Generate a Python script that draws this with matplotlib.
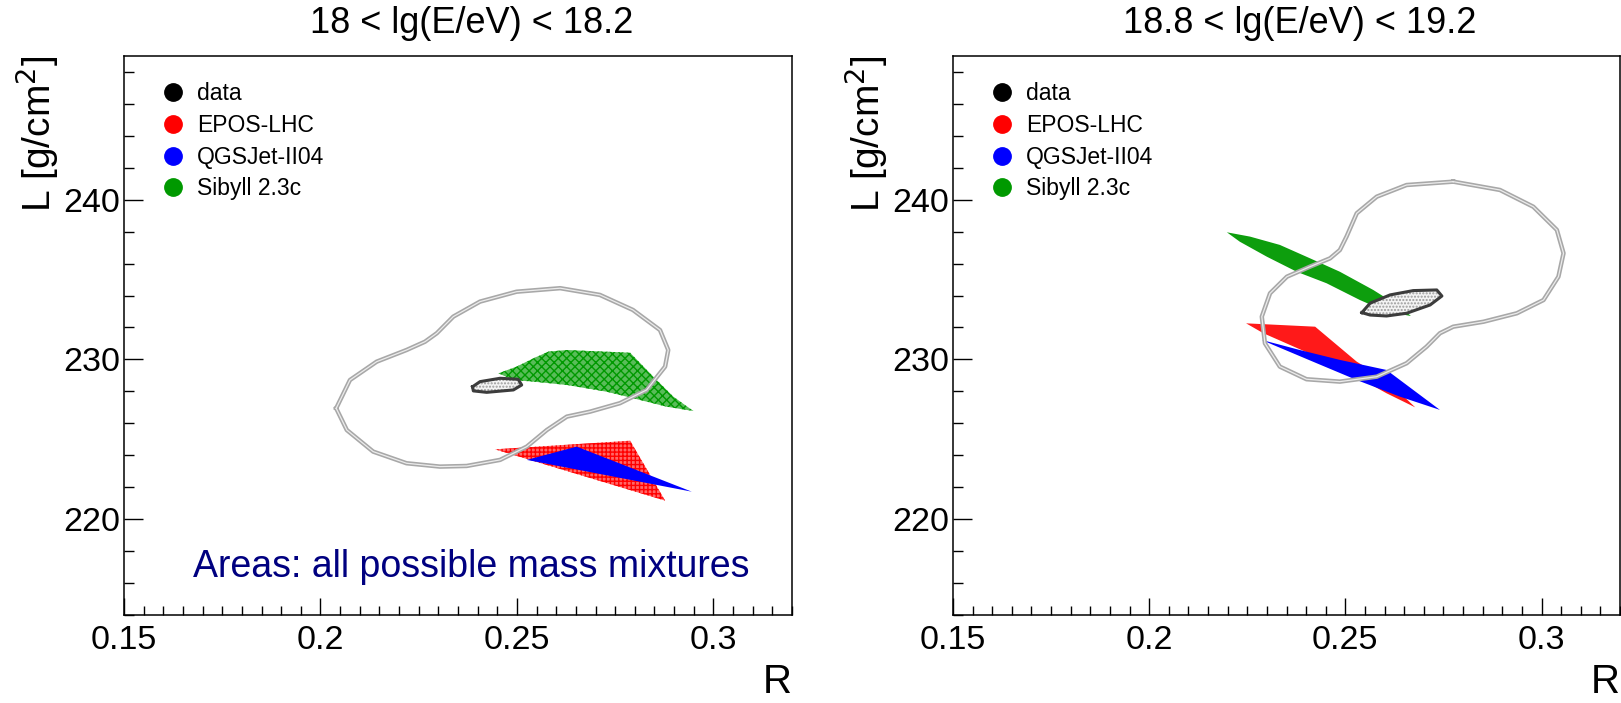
#!/usr/bin/env python3

import matplotlib
matplotlib.use('Agg')
import matplotlib.pyplot as plt
from matplotlib.lines import Line2D
from matplotlib.ticker import MultipleLocator

plt.rcParams['font.family'] = ['Liberation Sans', 'DejaVu Sans']

# ---- data: 18 < lg(E/eV) < 18.2 ----
low_contour_R = [0.2040, 0.2075, 0.2143, 0.2219, 0.2266, 0.2296, 0.2338, 0.2406, 0.2499,
                 0.2610, 0.2711, 0.2795, 0.2864, 0.2885, 0.2877, 0.2830, 0.2762, 0.2686,
                 0.2627, 0.2576, 0.2525, 0.2457, 0.2372, 0.2304, 0.2219, 0.2134, 0.2067]
low_contour_L = [226.94, 228.71, 229.86, 230.59, 231.11, 231.64, 232.68, 233.62, 234.24,
                 234.46, 234.04, 233.10, 231.84, 230.59, 229.55, 228.09, 227.26, 226.73,
                 226.42, 225.58, 224.54, 223.71, 223.33, 223.29, 223.50, 224.23, 225.58]

low_data_R = [0.2387, 0.2406, 0.2457, 0.2503, 0.2512, 0.2491, 0.2423, 0.2389]
low_data_L = [228.29, 228.61, 228.82, 228.76, 228.40, 228.09, 227.94, 228.03]

low_epos_R = [0.2444, 0.2788, 0.2877]
low_epos_L = [224.37, 224.91, 221.16]

low_qgsjet_R = [0.2525, 0.2652, 0.2945]
low_qgsjet_L = [223.71, 224.54, 221.72]

low_sibyll_R = [0.2453, 0.2499, 0.2542, 0.2580, 0.2627, 0.2788, 0.2847, 0.2898, 0.2949,
                0.2881, 0.2796, 0.2728, 0.2627, 0.2542, 0.2491]
low_sibyll_L = [229.13, 229.55, 230.07, 230.49, 230.59, 230.42, 228.92, 227.67, 226.77,
                227.04, 227.57, 227.98, 228.40, 228.61, 228.71]

# ---- data: 18.8 < lg(E/eV) < 19.2 ----
high_contour_R = [0.2775, 0.2894, 0.2979, 0.3039, 0.3056, 0.3043, 0.3005, 0.2937, 0.2852,
                  0.2775, 0.2741, 0.2707, 0.2656, 0.2580, 0.2486, 0.2401, 0.2333, 0.2295,
                  0.2287, 0.2308, 0.2351, 0.2410, 0.2461, 0.2486, 0.2503, 0.2529, 0.2580,
                  0.2656]
high_contour_L = [241.13, 240.61, 239.56, 238.11, 236.65, 235.18, 233.72, 232.89, 232.36,
                  232.05, 231.64, 230.80, 229.76, 228.92, 228.61, 228.76, 229.55, 231.01,
                  232.68, 234.14, 235.18, 235.81, 236.33, 236.85, 237.69, 239.15, 240.19,
                  240.92]

high_data_R = [0.2542, 0.2563, 0.2614, 0.2673, 0.2733, 0.2746, 0.2716, 0.2656, 0.2605, 0.2563]
high_data_L = [232.93, 233.52, 234.04, 234.31, 234.35, 233.97, 233.41, 232.89, 232.72, 232.78]

high_epos_R = [0.2247, 0.2423, 0.2529, 0.2605, 0.2678, 0.2605, 0.2529, 0.2427, 0.2291]
high_epos_L = [232.26, 232.05, 229.86, 228.71, 227.00, 227.88, 228.92, 230.17, 231.64]

high_qgsjet_R = [0.2287, 0.2384, 0.2486, 0.2605, 0.2741, 0.2639, 0.2529, 0.2427, 0.2316]
high_qgsjet_L = [231.22, 230.59, 229.97, 229.34, 226.84, 227.67, 228.71, 229.76, 230.91]

high_sibyll_R = [0.2198, 0.2257, 0.2333, 0.2410, 0.2486, 0.2571, 0.2639, 0.2667, 0.2605,
                 0.2537, 0.2452, 0.2376, 0.2300, 0.2231]
high_sibyll_L = [237.96, 237.69, 237.17, 236.33, 235.49, 234.35, 233.30, 232.72, 232.99,
                 233.72, 234.77, 235.49, 236.43, 237.37]

titles = ["18 < lg(E/eV) < 18.2", "18.8 < lg(E/eV) < 19.2"]
legend_labels = ["data", "EPOS-LHC", "QGSJet-II04", "Sibyll 2.3c"]
legend_colors = ["black", "#ff0000", "#0000ff", "#009900"]
x_ticks = [0.15, 0.2, 0.25, 0.3]
x_tick_labels = ["0.15", "0.2", "0.25", "0.3"]
y_ticks = [220, 230, 240]


def closed(v):
    return list(v) + [v[0]]


def draw_area(ax, R, L, color, alpha, hatch):
    ax.fill(R, L, facecolor=color, alpha=alpha, lw=0)
    if hatch:
        ax.fill(R, L, facecolor='none', edgecolor=color, hatch=hatch, lw=0)


def draw_panel(ax, title, contour, data, epos, qgsjet, sibyll, dense):
    if dense:
        draw_area(ax, *epos, '#ff0000', 0.9, None)
        draw_area(ax, *qgsjet, '#0000ff', 1.0, None)
        draw_area(ax, *sibyll, '#009900', 0.95, None)
    else:
        draw_area(ax, *epos, '#ff0000', 0.6, '++++')
        draw_area(ax, *qgsjet, '#0000ff', 1.0, None)
        draw_area(ax, *sibyll, '#009900', 0.65, 'xxxx')

    # outer grey contour drawn as a double line
    ax.plot(closed(contour[0]), closed(contour[1]), color='#a8a8a8', lw=3.2, zorder=5,
            solid_joinstyle='round')
    ax.plot(closed(contour[0]), closed(contour[1]), color='#ececec', lw=0.9, zorder=6,
            solid_joinstyle='round')

    # data contour
    ax.fill(data[0], data[1], facecolor='#f4f4f4', edgecolor='#9a9a9a', hatch='.....',
            lw=0, zorder=7)
    ax.plot(closed(data[0]), closed(data[1]), color='#3c3c3c', lw=2.2, zorder=8)

    ax.set_xlim(0.15, 0.32)
    ax.set_ylim(214, 249)
    ax.set_xticks(x_ticks, x_tick_labels)
    ax.set_yticks(y_ticks)
    ax.xaxis.set_minor_locator(MultipleLocator(0.005))
    ax.yaxis.set_minor_locator(MultipleLocator(2))
    ax.tick_params(which='both', direction='in', top=False, right=False, width=1.0)
    ax.tick_params(axis='x', which='major', length=12, pad=7, labelsize=24.5)
    ax.tick_params(axis='x', which='minor', length=6.5)
    ax.tick_params(axis='y', which='major', length=13.5, pad=3, labelsize=24.5)
    ax.tick_params(axis='y', which='minor', length=7)
    for s in ax.spines.values():
        s.set_linewidth(1.1)

    ax.text(0.52, 1.058, title, transform=ax.transAxes, ha='center', va='center',
            fontsize=26)
    ax.text(-0.13, 1.0, "L [g/cm$^2$]", transform=ax.transAxes, rotation=90,
            ha='center', va='top', fontsize=28)
    ax.text(1.0, -0.12, "R", transform=ax.transAxes, ha='right', va='center',
            fontsize=29)

    handles = [Line2D([], [], ls='none', marker='o', ms=12.5, color=c, mec=c)
               for c in legend_colors]
    ax.legend(handles, legend_labels, loc='upper left', bbox_to_anchor=(0.06, 0.953),
              frameon=False, fontsize=16.5, handlelength=0.8, handletextpad=0.65,
              labelspacing=0.38, borderpad=0, borderaxespad=0)


fig = plt.figure(figsize=(16.21, 7.03), dpi=100)
ax1 = fig.add_axes([0.0765, 0.1252, 0.4121, 0.7952])
ax2 = fig.add_axes([0.5879, 0.1252, 0.4115, 0.7952])

draw_panel(ax1, titles[0], (low_contour_R, low_contour_L), (low_data_R, low_data_L),
           (low_epos_R, low_epos_L), (low_qgsjet_R, low_qgsjet_L),
           (low_sibyll_R, low_sibyll_L), dense=False)
draw_panel(ax2, titles[1], (high_contour_R, high_contour_L), (high_data_R, high_data_L),
           (high_epos_R, high_epos_L), (high_qgsjet_R, high_qgsjet_L),
           (high_sibyll_R, high_sibyll_L), dense=True)

ax1.text(0.52, 0.068, "Areas: all possible mass mixtures", transform=ax1.transAxes,
         ha='center', va='baseline', fontsize=27, color='#000080')

fig.savefig("out.png", dpi=100)
